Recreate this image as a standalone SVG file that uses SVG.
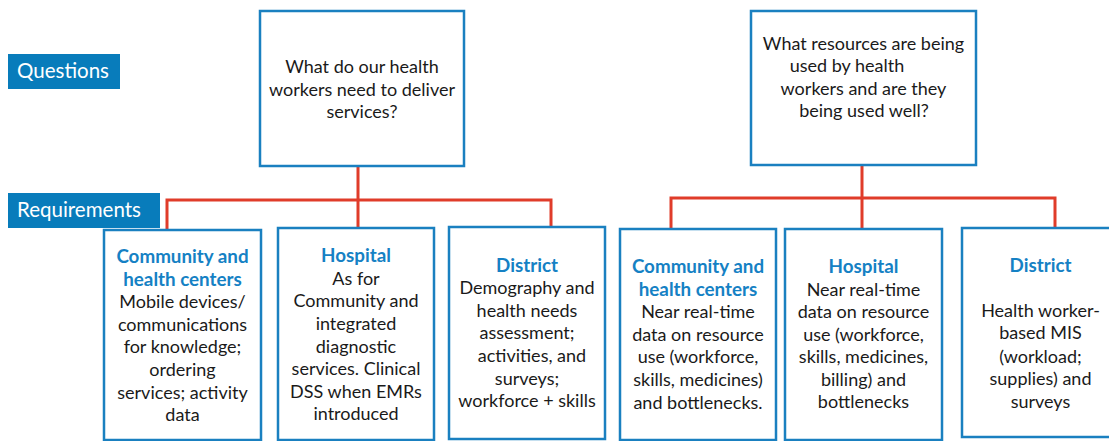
<svg xmlns="http://www.w3.org/2000/svg" width="1109" height="441" viewBox="0 0 1109 441">
<style>
.lbl{fill:#087cbb}
.lt{font-family:Lato,"Open Sans",sans-serif;font-size:20.5px;fill:#ffffff}
.box{fill:#ffffff;stroke:#1a80c0;stroke-width:2.5}
.t{font-family:Lato,"Noto Sans",sans-serif;font-size:18px;fill:#1a1a1a;text-anchor:middle}
.h{font-family:Lato,"Noto Sans",sans-serif;font-size:18.8px;font-weight:bold;fill:#1581c4;text-anchor:middle}
.c{fill:none;stroke:#e03c2a;stroke-width:3}
</style>
<rect width="1109" height="441" fill="#ffffff"/>
<g id="label-questions"><rect class="lbl" x="8" y="54" width="112" height="35"/><text class="lt" x="17" y="78">Questions</text></g>
<g id="label-requirements"><rect class="lbl" x="8" y="193" width="152" height="35"/><text class="lt" x="17" y="217">Requirements</text></g>
<g id="connectors">
<path class="c" d="M358 166V230M167 230V200H551V228"/>
<path class="c" d="M862 165V230M671 230V198H1055V228"/>
</g>
<g id="q1"><rect class="box" x="260" y="11" width="204" height="155"/>
<text class="t" x="362" y="73">What do our health</text>
<text class="t" x="362" y="96">workers need to deliver</text>
<text class="t" x="362" y="118">services?</text></g>
<g id="q2"><rect class="box" x="751" y="11" width="225" height="154"/>
<text class="t" x="863.5" y="50">What resources are being</text>
<text class="t" x="847" y="72">used by health</text>
<text class="t" x="863.5" y="95">workers and are they</text>
<text class="t" x="864" y="117">being used well?</text></g>
<g id="r1"><rect class="box" x="104" y="230" width="157" height="210"/>
<text class="h" x="182.5" y="263">Community and</text>
<text class="h" x="182.5" y="286">health centers</text>
<text class="t" x="182.5" y="308">Mobile devices/</text>
<text class="t" x="182.5" y="331">communications</text>
<text class="t" x="182.5" y="353">for knowledge;</text>
<text class="t" x="182.5" y="376">ordering</text>
<text class="t" x="182.5" y="399">services; activity</text>
<text class="t" x="182.5" y="421">data</text></g>
<g id="r2"><rect class="box" x="278" y="228" width="156" height="212"/>
<text class="h" x="356" y="262">Hospital</text>
<text class="t" x="356" y="285">As for</text>
<text class="t" x="356" y="307">Community and</text>
<text class="t" x="356" y="330">integrated</text>
<text class="t" x="356" y="353">diagnostic</text>
<text class="t" x="356" y="375">services. Clinical</text>
<text class="t" x="356" y="398">DSS when EMRs</text>
<text class="t" x="356" y="420">introduced</text></g>
<g id="r3"><rect class="box" x="449" y="227" width="156" height="212"/>
<text class="h" x="527" y="272">District</text>
<text class="t" x="527" y="294">Demography and</text>
<text class="t" x="527" y="317">health needs</text>
<text class="t" x="527" y="339">assessment;</text>
<text class="t" x="532" y="362">activities, and</text>
<text class="t" x="527" y="385">surveys;</text>
<text class="t" x="527" y="407">workforce + skills</text></g>
<g id="r4"><rect class="box" x="620" y="229" width="156" height="211"/>
<text class="h" x="698" y="273">Community and</text>
<text class="h" x="698" y="296">health centers</text>
<text class="t" x="698" y="318">Near real-time</text>
<text class="t" x="698" y="341">data on resource</text>
<text class="t" x="698" y="363">use (workforce,</text>
<text class="t" x="698" y="386">skills, medicines)</text>
<text class="t" x="698" y="409">and bottlenecks.</text></g>
<g id="r5"><rect class="box" x="785" y="229" width="157" height="211"/>
<text class="h" x="863.5" y="273">Hospital</text>
<text class="t" x="863.5" y="296">Near real-time</text>
<text class="t" x="863.5" y="318">data on resource</text>
<text class="t" x="863.5" y="341">use (workforce,</text>
<text class="t" x="863.5" y="363">skills, medicines,</text>
<text class="t" x="863.5" y="386">billing) and</text>
<text class="t" x="863.5" y="408">bottlenecks</text></g>
<g id="r6"><rect class="box" x="962" y="228" width="156" height="209"/>
<text class="h" x="1040.5" y="272">District</text>
<text class="t" x="1040.5" y="317">Health worker-</text>
<text class="t" x="1040.5" y="339">based MIS</text>
<text class="t" x="1040.5" y="363">(workload;</text>
<text class="t" x="1040.5" y="385">supplies) and</text>
<text class="t" x="1040.5" y="408">surveys</text></g>
</svg>
